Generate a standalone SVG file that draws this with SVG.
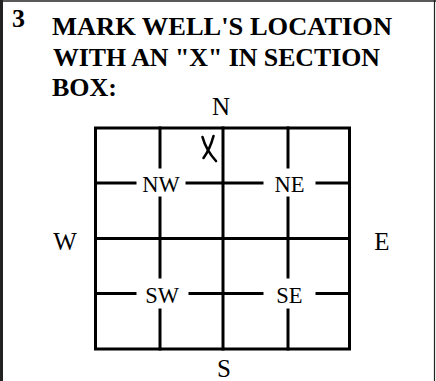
<svg xmlns="http://www.w3.org/2000/svg" width="436" height="381" viewBox="0 0 436 381">
<style>
.title{font-family:"Liberation Serif","Times New Roman",serif;font-weight:bold;font-size:26px;fill:#000}
.dir{font-family:"Liberation Serif","Times New Roman",serif;font-size:25px;fill:#000;text-anchor:middle}
.quad{font-family:"Liberation Serif","Times New Roman",serif;font-size:22.5px;fill:#000;text-anchor:middle}
.grid{stroke:#000;stroke-width:3;fill:none;stroke-linecap:square}
.frame{stroke:#222;fill:none}
</style>
<rect x="0" y="0" width="436" height="381" fill="#fff"/>
<g id="frame">
<line class="frame" x1="0" y1="1" x2="436" y2="1" stroke-width="1.5" stroke="#555"/>
<line class="frame" x1="1.5" y1="0" x2="1.5" y2="381" stroke-width="3"/>
<line class="frame" x1="434.5" y1="0" x2="434.5" y2="381" stroke-width="1.2" stroke="#666"/>
</g>
<g id="title">
<text class="title" x="12" y="27">3</text>
<text class="title" x="52" y="35" textLength="340" lengthAdjust="spacingAndGlyphs">MARK WELL'S LOCATION</text>
<text class="title" x="53" y="65.5" textLength="327" lengthAdjust="spacingAndGlyphs">WITH AN "X" IN SECTION</text>
<text class="title" x="52" y="95.5">BOX:</text>
</g>
<g id="compass">
<text id="N" class="dir" x="221" y="115">N</text>
<text id="S" class="dir" x="224" y="377">S</text>
<text id="W" class="dir" x="65" y="250">W</text>
<text id="E" class="dir" x="382" y="250">E</text>
</g>
<g id="connectors">
<rect class="grid" x="95.5" y="128" width="254" height="221" stroke-width="3.5"/>
<line class="grid" x1="223" y1="128" x2="223" y2="349"/>
<line class="grid" x1="95.5" y1="238.5" x2="349.5" y2="238.5"/>
<line class="grid" x1="160" y1="128" x2="160" y2="167"/>
<line class="grid" x1="160" y1="198" x2="160" y2="277"/>
<line class="grid" x1="160" y1="310" x2="160" y2="349"/>
<line class="grid" x1="288" y1="128" x2="288" y2="167"/>
<line class="grid" x1="288" y1="198" x2="288" y2="277"/>
<line class="grid" x1="288" y1="310" x2="288" y2="349"/>
<line class="grid" x1="95.5" y1="183" x2="135" y2="183"/>
<line class="grid" x1="187" y1="183" x2="262" y2="183"/>
<line class="grid" x1="317" y1="183" x2="349.5" y2="183"/>
<line class="grid" x1="95.5" y1="293.5" x2="135" y2="293.5"/>
<line class="grid" x1="190" y1="293.5" x2="262" y2="293.5"/>
<line class="grid" x1="317" y1="293.5" x2="349.5" y2="293.5"/>
</g>
<g id="NW"><text class="quad" x="161" y="192">NW</text></g>
<g id="NE"><text class="quad" x="289.5" y="192">NE</text></g>
<g id="SW"><text class="quad" x="162" y="303">SW</text></g>
<g id="SE"><text class="quad" x="289.5" y="303">SE</text></g>
<g id="mark">
<path d="M202.5,137 Q206,150 216,161" stroke="#000" stroke-width="2.6" fill="none" stroke-linecap="round"/>
<path d="M213.5,136 Q210,149 203.5,158" stroke="#000" stroke-width="2.6" fill="none" stroke-linecap="round"/>
</g>
</svg>
